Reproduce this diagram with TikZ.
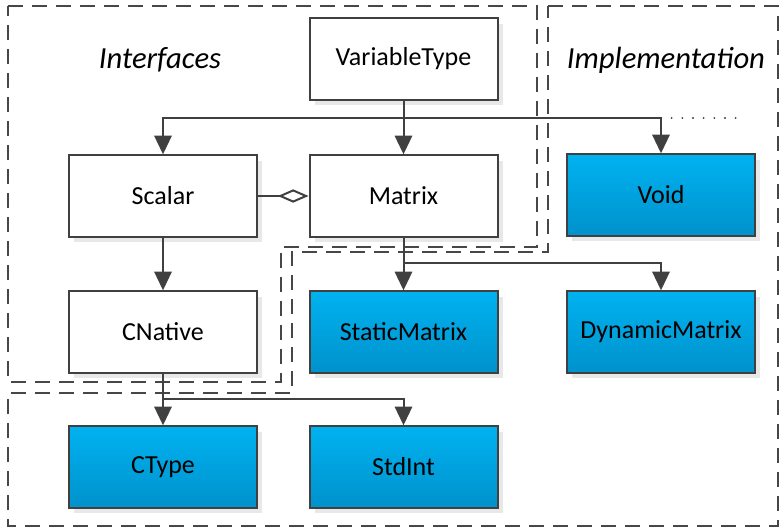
\documentclass[tikz,border=0pt]{standalone}
\usepackage{fontspec}
\setmainfont{Carlito}
\usetikzlibrary{arrows.meta,shadows}

\begin{document}
\begin{tikzpicture}[
  x=0.75pt,y=-0.75pt,
  conn/.style={draw=black!75,line width=1.5pt},
  arr/.style={conn,-{Triangle[length=14pt,width=13pt]}},
  agg/.style={conn,-{Diamond[open,fill=white,length=23pt,width=10pt]}},
  typebox/.style={rectangle,draw=black!75,line width=1.5pt,fill=white,
    minimum width=141pt,minimum height=61pt,inner sep=0pt,
    font=\fontsize{19.5}{22}\selectfont,
    drop shadow={shadow xshift=4pt,shadow yshift=-4pt,fill=black!9,opacity=1}},
  implbox/.style={typebox,top color={rgb,255:red,0;green,178;blue,240},bottom color={rgb,255:red,0;green,146;blue,204}},
  region/.style={draw=black!72,line width=1.3pt,dash pattern=on 11pt off 7pt},
  title/.style={font=\fontsize{23}{27}\selectfont\itshape}
]
\useasboundingbox (0,0) rectangle (779,528);

% regions
\draw[region] (8,6) -- (537,6) -- (537,247) -- (281,247) -- (281,382) -- (8,382) -- cycle;
\draw[region] (548,6) -- (778,6) -- (778,526) -- (8,526) -- (8,393) -- (292,393) -- (292,252) -- (548,252) -- cycle;

\node[title] (interfaces) at (160,60) {Interfaces};
\node[title] (implementation) at (666,60) {Implementation};

% types
\node[typebox] (VariableType) at (403.5,59) {VariableType};
\node[typebox] (Scalar) at (163,196) {Scalar};
\node[typebox] (Matrix) at (403.5,196) {Matrix};
\node[implbox] (Void) at (661,195) {Void};
\node[typebox] (CNative) at (163,332) {CNative};
\node[implbox] (StaticMatrix) at (403.5,332) {StaticMatrix};
\node[implbox] (DynamicMatrix) at (661,332) {DynamicMatrix};
\node[implbox] (CType) at (163,467) {CType};
\node[implbox] (StdInt) at (403.5,467) {StdInt};

% connectors
\coordinate (vt) at (403.5,118);
\coordinate (vd) at (Void |- vt);
\coordinate (dotend) at (736,118);
\draw[conn] (VariableType) -- (vt);
\draw[arr] (vt) -| (Scalar);
\draw[arr] (vt) -- (Matrix);
\draw[arr] (vt) -| (Void);
\draw[conn,line width=1.6pt,line cap=round,dash pattern=on 0pt off 8pt] (vd) -- (dotend);

\draw[agg] (Scalar) -- (Matrix);
\draw[arr] (Scalar) -- (CNative);

\coordinate (mt) at (403.5,263);
\draw[conn] (Matrix) -- (mt);
\draw[arr] (mt) -- (StaticMatrix);
\draw[arr] (mt) -| (DynamicMatrix);

\coordinate (cn) at (163,399);
\draw[conn] (CNative) -- (cn);
\draw[arr] (cn) -- (CType);
\draw[arr] (cn) -| (StdInt);

\end{tikzpicture}
\end{document}
